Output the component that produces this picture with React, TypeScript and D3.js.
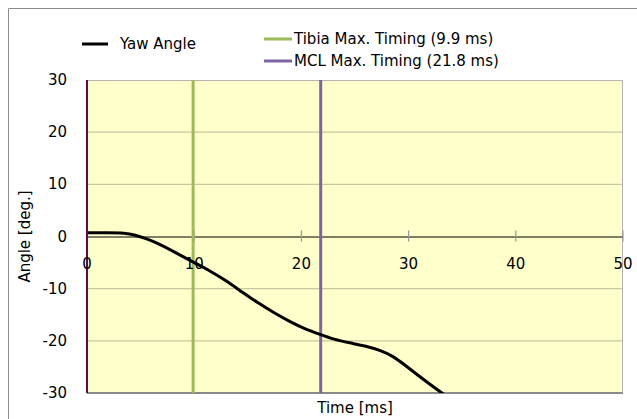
import React from "react";
import * as d3 from "d3";

// yaw angle trace
const timeMs = [0, 2, 3.5, 4.5, 5.5, 6.5, 8, 10, 11.5, 13, 14.5, 16, 17.5, 19, 20.2, 21.8, 23, 24.5, 26, 27.5, 28.5, 29.5, 31, 32.5, 34];
const yawDeg = [0.7, 0.7, 0.7, 0.3, -0.4, -1.2, -2.8, -5.0, -6.6, -8.5, -10.7, -12.8, -14.7, -16.4, -17.6, -18.8, -19.7, -20.4, -21.0, -21.9, -22.9, -24.4, -26.8, -29.1, -31.3];

const markerNames = ["Tibia Max. Timing (9.9 ms)", "MCL Max. Timing (21.8 ms)"];
const markerTimes = [9.9, 21.8];
const markerColors = ["#9bbb59", "#8064a2"];

const xTicks = [0, 10, 20, 30, 40, 50];
const yTicks = [30, 20, 10, 0, -10, -20, -30];

const W = 637;
const H = 419;
const font = "Tahoma, 'DejaVu Sans', sans-serif";

export default function App() {
  const left = 87, right = 623, top = 80, bottom = 393;
  const x = d3.scaleLinear().domain([0, 50]).range([left, right]);
  const y = d3.scaleLinear().domain([-30, 30]).range([bottom, top]);

  const pts: [number, number][] = timeMs.map((t, i) => [t, yawDeg[i]]);
  const line = d3
    .line<[number, number]>()
    .x(d => x(d[0]))
    .y(d => y(d[1]))
    .curve(d3.curveBasis);

  return (
    <svg width={W} height={H} style={{ position: "absolute", left: 0, top: 0 }} fontFamily={font}>
      <defs>
        <clipPath id="plot">
          <rect x={left} y={top} width={right - left} height={bottom - top} />
        </clipPath>
      </defs>
      <rect x={0} y={0} width={W} height={H} fill="#fff" />
      {/* outer chart frame, runs off the bottom/right */}
      <path d={`M8.5,${H} V8.5 H${W}`} fill="none" stroke="#8c8c8c" />

      <rect x={left} y={top} width={right - left} height={bottom - top} fill="#ffffcc" />
      {yTicks.filter(v => v !== 0 && Math.abs(v) !== 30).map(v => (
        <line key={v} x1={left} x2={right} y1={y(v)} y2={y(v)} stroke="#c8c8a0" strokeWidth={1.2} />
      ))}
      {/* plot frame */}
      <path d={`M${left},${top + 0.5} H${right - 0.5} V${bottom}`} fill="none" stroke="#b4b4b4" />
      <line x1={left} x2={right} y1={bottom} y2={bottom} stroke="#8a8a8a" strokeWidth={2} />

      {/* zero axis with crossing ticks */}
      <line x1={left} x2={right} y1={y(0) + 0.5} y2={y(0) + 0.5} stroke="#000" strokeWidth={1} />
      {xTicks.slice(1).map(v => (
        <line key={v} x1={x(v)} x2={x(v)} y1={y(0) - 6} y2={y(0) + 5} stroke="#9a9a9a" strokeWidth={1.2} />
      ))}

      {markerTimes.map((t, i) => (
        <line key={t} x1={x(t)} x2={x(t)} y1={top} y2={bottom} stroke={markerColors[i]} strokeWidth={3} />
      ))}

      <path d={line(pts) || ""} fill="none" stroke="#000" strokeWidth={3} clipPath="url(#plot)" />

      {/* left axis */}
      <line x1={left} x2={left} y1={top} y2={bottom} stroke="#5a0a5a" strokeWidth={2} />

      {xTicks.map(v => (
        <text key={v} x={x(v)} y={y(0) + 32} textAnchor="middle" fontSize={15} fill="#000">{v}</text>
      ))}
      {yTicks.map(v => (
        <text key={v} x={left - 20} y={y(v) + 5} textAnchor="end" fontSize={15} fill="#000">{v}</text>
      ))}

      <text x={355} y={413} textAnchor="middle" fontSize={15}>Time [ms]</text>
      <text transform={`translate(30,${(top + bottom) / 2}) rotate(-90)`} textAnchor="middle" fontSize={15}>Angle [deg.]</text>

      {/* legend */}
      <line x1={82} x2={108} y1={44} y2={44} stroke="#000" strokeWidth={3} />
      <text x={120} y={49} fontSize={15}>Yaw Angle</text>
      {markerNames.map((n, i) => (
        <g key={n}>
          <line x1={264} x2={292} y1={39 + i * 22} y2={39 + i * 22} stroke={markerColors[i]} strokeWidth={3} />
          <text x={294} y={44 + i * 22} fontSize={15}>{n}</text>
        </g>
      ))}
    </svg>
  );
}
